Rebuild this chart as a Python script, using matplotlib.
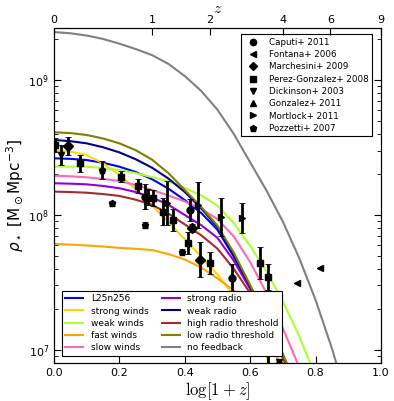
import numpy as np
import matplotlib
matplotlib.use('Agg')
import matplotlib.pyplot as plt
from matplotlib.lines import Line2D

# simulation runs: log10 rho_star read at log(1+z) = 0, 0.05, ..., 0.9
x_run = [0.0, 0.05, 0.1, 0.15, 0.2, 0.25, 0.3, 0.35, 0.4, 0.45,
         0.5, 0.55, 0.6, 0.65, 0.7, 0.75, 0.8, 0.85, 0.9]
run_names = ['L25n256', 'strong winds', 'weak winds', 'fast winds', 'slow winds',
             'strong radio', 'weak radio', 'high radio threshold',
             'low radio threshold', 'no feedback']
run_colors = ['#0000ff', '#ffd700', '#adff2f', '#ffa500', '#ff69b4',
              '#9400d3', '#00008b', '#a52a2a', '#808000', '#808080']
L25n256 = [8.42, 8.416, 8.407, 8.387, 8.358, 8.318, 8.265, 8.195, 8.11, 8.015,
           7.89, 7.69, 7.46, 7.21, 6.95, 6.66, 6.35, 6.0, 5.6]
strong_winds = [8.481, 8.469, 8.444, 8.383, 8.296, 8.19, 8.07, 7.945, 7.82, 7.69,
                7.56, 7.4, 7.2, 6.95, 6.65, 6.3, 5.9, 5.5, 5.1]
weak_winds = [8.358, 8.358, 8.358, 8.348, 8.333, 8.31, 8.28, 8.25, 8.2, 8.145,
              8.07, 7.94, 7.77, 7.58, 7.36, 7.1, 6.8, 6.45, 6.05]
fast_winds = [7.785, 7.78, 7.774, 7.766, 7.756, 7.749, 7.74, 7.71, 7.67, 7.61,
              7.53, 7.44, 7.29, 7.09, 6.86, 6.58, 6.25, 5.9, 5.5]
slow_winds = [8.291, 8.287, 8.279, 8.268, 8.252, 8.222, 8.185, 8.145, 8.1, 8.045,
              7.97, 7.84, 7.65, 7.42, 7.16, 6.87, 6.52, 6.15, 5.75]
strong_radio = [8.235, 8.232, 8.227, 8.215, 8.198, 8.17, 8.13, 8.075, 8.0, 7.925,
                7.83, 7.66, 7.45, 7.2, 6.95, 6.66, 6.35, 6.0, 5.6]
weak_radio = [8.556, 8.547, 8.531, 8.502, 8.464, 8.413, 8.35, 8.27, 8.17, 8.05,
              7.91, 7.7, 7.47, 7.22, 6.96, 6.67, 6.35, 6.0, 5.6]
high_radio = [8.173, 8.17, 8.165, 8.155, 8.141, 8.113, 8.075, 8.01, 7.93, 7.85,
              7.75, 7.6, 7.42, 7.19, 6.94, 6.66, 6.35, 6.0, 5.6]
low_radio = [8.613, 8.607, 8.593, 8.567, 8.531, 8.48, 8.41, 8.31, 8.185, 8.06,
             7.92, 7.72, 7.48, 7.23, 6.97, 6.68, 6.35, 6.0, 5.6]
no_feedback = [9.356, 9.347, 9.33, 9.305, 9.27, 9.23, 9.185, 9.12, 9.03, 8.92,
               8.78, 8.6, 8.39, 8.18, 7.95, 7.68, 7.37, 7.01, 6.6]
run_values = [L25n256, strong_winds, weak_winds, fast_winds, slow_winds,
              strong_radio, weak_radio, high_radio, low_radio, no_feedback]

# observations: log(1+z), log10 rho, error in dex
caputi_x = [0.278, 0.416, 0.543]
caputi_y = [8.136, 8.037, 7.533]
caputi_e = [0.09, 0.08, 0.1]
fontana_x = [0.742, 0.813]
fontana_y = [7.494, 7.605]
fontana_e = [0.0, 0.0]
marchesini_x = [0.044, 0.421, 0.446]
marchesini_y = [8.511, 7.901, 7.667]
marchesini_e = [0.067, 0.03, 0.13]
perez_x = [0.003, 0.08, 0.204, 0.256, 0.302, 0.334, 0.365, 0.411, 0.477, 0.63, 0.654]
perez_y = [8.519, 8.383, 8.284, 8.215, 8.126, 8.024, 7.963, 7.79, 7.644, 7.642, 7.54]
perez_e = [0.05, 0.063, 0.04, 0.05, 0.06, 0.1, 0.08, 0.08, 0.08, 0.12, 0.1]
dickinson_x = [0.02, 0.688]
dickinson_y = [8.444, 6.91]
dickinson_e = [0.074, 0.0]
gonzalez_x = [0.654]
gonzalez_y = [6.82]
gonzalez_e = [0.14]
mortlock_x = [0.345, 0.441, 0.51, 0.574]
mortlock_y = [8.089, 8.074, 7.987, 7.978]
mortlock_e = [0.16, 0.17, 0.14, 0.11]
pozzetti_x = [0.146, 0.176, 0.288, 0.278, 0.39]
pozzetti_y = [8.333, 8.087, 8.136, 7.926, 7.728]
pozzetti_e = [0.067, 0.02, 0.06, 0.02, 0.02]

obs = [('Caputi+ 2011', 'o', caputi_x, caputi_y, caputi_e),
       ('Fontana+ 2006', '<', fontana_x, fontana_y, fontana_e),
       ('Marchesini+ 2009', 'D', marchesini_x, marchesini_y, marchesini_e),
       ('Perez-Gonzalez+ 2008', 's', perez_x, perez_y, perez_e),
       ('Dickinson+ 2003', 'v', dickinson_x, dickinson_y, dickinson_e),
       ('Gonzalez+ 2011', '^', gonzalez_x, gonzalez_y, gonzalez_e),
       ('Mortlock+ 2011', '>', mortlock_x, mortlock_y, mortlock_e),
       ('Pozzetti+ 2007', 'p', pozzetti_x, pozzetti_y, pozzetti_e)]

z_ticks = [0, 1, 2, 4, 6, 9]

fig = plt.figure(figsize=(3.94, 4.01), dpi=100)
ax = fig.add_axes([0.137, 0.095, 0.830, 0.835])

lines = []
for name, col, vals in zip(run_names, run_colors, run_values):
    l, = ax.plot(x_run, 10 ** np.array(vals), color=col, lw=1.5, label=name)
    lines.append(l)

handles = []
for label, m, x, y, e in obs:
    y = np.array(y)
    e = np.array(e)
    lo = 10 ** y - 10 ** (y - e)
    hi = 10 ** (y + e) - 10 ** y
    cont = ax.errorbar(x, 10 ** y, yerr=[lo, hi], fmt=m, color='k', ms=5,
                       elinewidth=2, capsize=2, capthick=0.6, zorder=5)
    for c in cont[1]:
        c.set_color('0.6')
    handles.append(Line2D([], [], ls='none', marker=m, color='k', ms=4.5, label=label))

ax.set_yscale('log')
ax.set_xlim(0, 1)
ax.set_ylim(8.0e6, 2.43e9)
ax.set_xticks([0.0, 0.2, 0.4, 0.6, 0.8, 1.0])
ax.set_xticklabels(['0.0', '0.2', '0.4', '0.6', '0.8', '1.0'])
ax.tick_params(which='both', direction='in', right=True, top=False, labelsize=8)
ax.tick_params(which='major', length=5)
ax.tick_params(which='minor', length=3)
ax.set_xlabel(r'$\log[1+z]$', fontsize=12, math_fontfamily='cm', labelpad=2)
ax.set_ylabel(r'$\rho_\star\ [\mathrm{M_\odot Mpc^{-3}}]$', fontsize=11, labelpad=2)

ax2 = ax.twiny()
ax2.set_xlim(0, 1)
ax2.set_xticks(np.log10(1 + np.array(z_ticks)))
ax2.set_xticklabels([str(z) for z in z_ticks])
ax2.tick_params(direction='in', length=5, labelsize=8, pad=2)
ax2.set_xlabel(r'$z$', fontsize=11, math_fontfamily='cm', labelpad=2)

leg1 = ax.legend(handles=handles, loc='upper right', bbox_to_anchor=(0.972, 0.982),
                 borderaxespad=0, fontsize=6.3, numpoints=1, labelspacing=0.38,
                 fancybox=False, framealpha=1, edgecolor='k')
leg1.get_frame().set_linewidth(0.8)
ax.add_artist(leg1)
leg2 = ax.legend(handles=lines, loc='lower left', bbox_to_anchor=(0.024, 0.021),
                 borderaxespad=0, ncol=2, fontsize=6.5, labelspacing=0.36,
                 columnspacing=1.5, fancybox=False, framealpha=1, edgecolor='k')
leg2.get_frame().set_linewidth(0.8)

fig.savefig('out.png', dpi=100)
